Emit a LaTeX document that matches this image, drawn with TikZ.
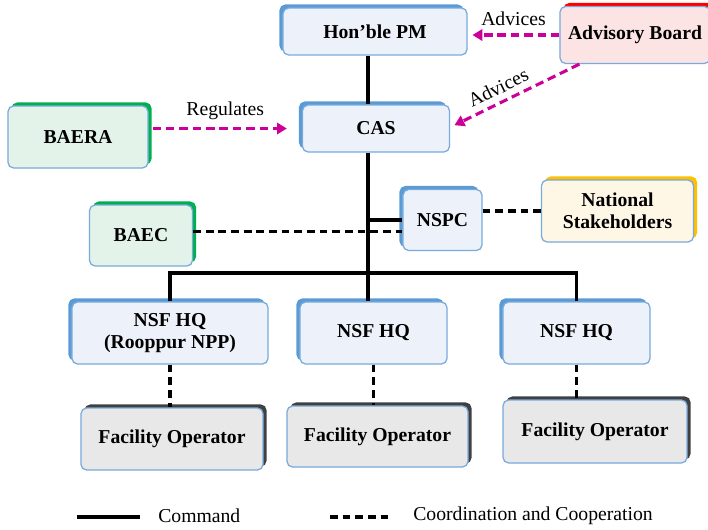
\documentclass[tikz,border=0pt]{standalone}
\usepackage{fontspec}
\setmainfont{Liberation Serif}
\usetikzlibrary{shadows,arrows.meta}
\definecolor{boxline}{RGB}{120,170,220}
\definecolor{bluefill}{RGB}{237,242,250}
\definecolor{blueshadow}{RGB}{91,155,213}
\definecolor{greenfill}{RGB}{227,243,233}
\definecolor{greenshadow}{RGB}{0,176,80}
\definecolor{pinkfill}{RGB}{253,228,228}
\definecolor{redshadow}{RGB}{255,0,0}
\definecolor{yellowfill}{RGB}{255,247,230}
\definecolor{yellowshadow}{RGB}{255,192,0}
\definecolor{grayfill}{RGB}{232,232,232}
\definecolor{grayshadow}{RGB}{64,64,64}
\definecolor{advmagenta}{RGB}{204,0,153}
\begin{document}
\begin{tikzpicture}[x=0.025cm,y=-0.025cm,
	basebox/.style={draw=boxline,line width=0.9pt,rounded corners=4pt,inner sep=0pt,align=center,font=\fontsize{14}{15.5}\selectfont\bfseries},
	bluebox/.style={basebox,fill=bluefill,general shadow={fill=blueshadow,shadow xshift=-2.5pt,shadow yshift=2.5pt}},
	greenbox/.style={basebox,fill=greenfill,general shadow={fill=greenshadow,shadow xshift=2.5pt,shadow yshift=2.5pt}},
	redbox/.style={basebox,fill=pinkfill,general shadow={fill=redshadow,shadow xshift=2.5pt,shadow yshift=2.5pt}},
	yellowbox/.style={basebox,fill=yellowfill,general shadow={fill=yellowshadow,shadow xshift=2.5pt,shadow yshift=2.5pt}},
	graybox/.style={basebox,fill=grayfill,general shadow={fill=grayshadow,shadow xshift=2.5pt,shadow yshift=2.5pt}},
	cmd/.style={line width=2.5pt},
	coop/.style={line width=2.5pt,dash pattern=on 5.5pt off 3.5pt},
	advarrow/.style={advmagenta,line width=2.2pt,dash pattern=on 6pt off 3.5pt,-{Triangle[length=7pt,width=8pt]}},
	lbl/.style={font=\fontsize{14}{16}\selectfont,text=black}]
	\useasboundingbox (0,0) rectangle (708,529);
		% boxes of the organisation chart
		\node[bluebox,minimum width=4.6cm,minimum height=1.175cm] (pm) at (375,31.5) {Hon'ble PM};
		\node[redbox,minimum width=3.75cm,minimum height=1.425cm] (adv) at (635,35) {Advisory Board};
		\node[bluebox,minimum width=3.675cm,minimum height=1.175cm] (cas) at (376,128.5) {CAS};
		\node[greenbox,minimum width=3.5cm,minimum height=1.55cm] (baera) at (78,137) {BAERA};
		\node[greenbox,minimum width=2.575cm,minimum height=1.525cm] (baec) at (141,235.5) {BAEC};
		\node[bluebox,minimum width=1.975cm,minimum height=1.525cm] (nspc) at (442.5,220) {NSPC};
		\node[yellowbox,minimum width=3.8cm,minimum height=1.55cm] (nat) at (617.5,211) {National\\Stakeholders};

		\node[bluebox,minimum width=4.9cm,minimum height=1.55cm] (hq1) at (170,333) {NSF HQ\\(Rooppur NPP)};
		\node[bluebox,minimum width=3.675cm,minimum height=1.55cm] (hq2) at (373.5,333) {NSF HQ};
		\node[bluebox,minimum width=3.675cm,minimum height=1.55cm] (hq3) at (576.5,333) {NSF HQ};
		\node[graybox,minimum width=4.55cm,minimum height=1.55cm] (fo1) at (172,439) {Facility Operator};
		\node[graybox,minimum width=4.525cm,minimum height=1.525cm] (fo2) at (377.5,436.5) {Facility Operator};
		\node[graybox,minimum width=4.6cm,minimum height=1.575cm] (fo3) at (595,431.5) {Facility Operator};

		\coordinate (trunk) at (368,0);
		\coordinate (bus) at (368,273);
		\draw[cmd] (pm.south -| trunk) -- (cas.north -| trunk);
		\draw[cmd] (cas.south -| trunk) -- (hq2.north -| trunk);
		\draw[cmd] (nspc.west -| trunk) -- (nspc.west);
		\draw[cmd] (hq1.north) |- (bus) -| (hq3.north);

		\draw[coop] ([yshift=0.1cm]baec.east) -- ([yshift=0.1cm]baec.east -| nspc.west);
		\draw[coop] (nspc.east |- nat.west) -- (nat.west);
		\draw[coop] (hq1.south) -- (hq1.south |- fo1.north);
		\draw[coop] (hq2.south) -- (hq2.south |- fo2.north);
		\draw[coop] (hq3.south) -- (hq3.south |- fo3.north);

		\draw[advarrow,shorten >=0.12cm] (adv.west) -- (adv.west -| pm.east) node[lbl,midway,above=2pt] {Advices};
		\draw[advarrow,shorten >=0.12cm] ([xshift=0.5cm]adv.south west) -- ([yshift=0.03cm]cas.east) node[lbl,pos=0.58,above=1pt,sloped] {Advices};
		\draw[advarrow,shorten <=0.1cm,shorten >=0.375cm] (baera.east |- cas.west) -- (cas.west) node[lbl,midway,above=2pt] {Regulates};

		% legend
		\coordinate (l1a) at (77,517);
		\coordinate (l1b) at (140,517);
		\coordinate (l2a) at (330,517);
		\coordinate (l2b) at (393,517);
		\draw[cmd] (l1a) -- (l1b);
		\draw[coop] (l2a) -- (l2b);
		\node[lbl,anchor=west,inner sep=0pt] (lcmd) at (158,516) {Command};
		\node[lbl,anchor=west,inner sep=0pt] (lcoop) at (413,516) {Coordination and Cooperation};
	\end{tikzpicture}
\end{document}
